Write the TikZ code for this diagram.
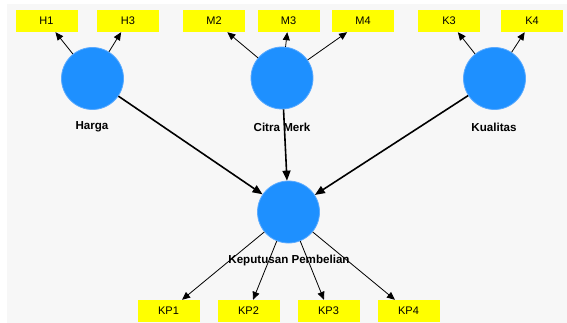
\documentclass[tikz,border=0pt]{standalone}
\usepackage{fontspec}
\setmainfont{Liberation Sans}
\usetikzlibrary{arrows.meta}
\definecolor{latent}{RGB}{30,144,255}
\definecolor{latentrim}{RGB}{90,170,255}
\definecolor{indicator}{RGB}{255,255,0}
\definecolor{canvas}{RGB}{247,247,247}
\tikzset{
  construct/.style={circle, fill=latent, draw=latentrim, line width=0.8pt, minimum size=62pt, inner sep=0pt},
  item/.style={rectangle, fill=indicator, minimum width=62pt, minimum height=22pt, inner sep=0pt, font=\fontsize{11}{13}\selectfont},
  caption/.style={font=\fontsize{11.6}{14}\selectfont\bfseries, inner sep=0pt},
  loading/.style={-{Triangle[length=8pt,width=7pt]}, line width=0.8pt, black},
  path coef/.style={-{Triangle[length=10pt,width=8pt]}, line width=1.6pt, black}
}
\begin{document}
\begin{tikzpicture}[x=1pt,y=-1pt]
  \useasboundingbox (0,0) rectangle (567,323);
  \fill[white] (0,0) rectangle (567,323);
  \fill[canvas] (7,4) rectangle (567,323);

  % latent constructs
  \node[construct] (harga) at (92.5,78.5) {};
  \node[construct] (citra) at (282,78) {};
  \node[construct] (kual) at (494.5,78.5) {};
  \node[construct] (kp) at (288.5,212) {};

  % indicators
  \node[item] (h1) at (46.5,21) {H1};
  \node[item] (h3) at (128,21) {H3};
  \node[item] (m2) at (214,21) {M2};
  \node[item] (m3) at (288.5,21) {M3};
  \node[item] (m4) at (363,21) {M4};
  \node[item] (k3) at (449,21) {K3};
  \node[item] (k4) at (532,21) {K4};
  \node[item] (kp1) at (168.5,311) {KP1};
  \node[item] (kp2) at (248.5,311) {KP2};
  \node[item] (kp3) at (328.5,311) {KP3};
  \node[item] (kp4) at (408.5,311) {KP4};

  % outer loadings
  \draw[loading] (harga) -- (h1);
  \draw[loading] (harga) -- (h3);
  \draw[loading] (citra) -- (m2);
  \draw[loading] (citra) -- (m3);
  \draw[loading] (citra) -- (m4);
  \draw[loading] (kual) -- (k3);
  \draw[loading] (kual) -- (k4);
  \draw[loading] (kp) -- (kp1);
  \draw[loading] (kp) -- (kp2);
  \draw[loading] (kp) -- (kp3);
  \draw[loading] (kp) -- (kp4);

  % structural paths
  \draw[path coef] (harga) -- (kp);
  \draw[path coef] (citra) -- (kp);
  \draw[path coef] (kual) -- (kp);

  % construct names
  \node[caption] (lharga) at (92,127) {Harga};
  \node[caption] (lcitra) at (282,127) {Citra Merk};
  \node[caption] (lkual) at (494,127) {Kualitas};
  \node[caption] (lkp) at (289,260) {Keputusan Pembelian};
\end{tikzpicture}
\end{document}
